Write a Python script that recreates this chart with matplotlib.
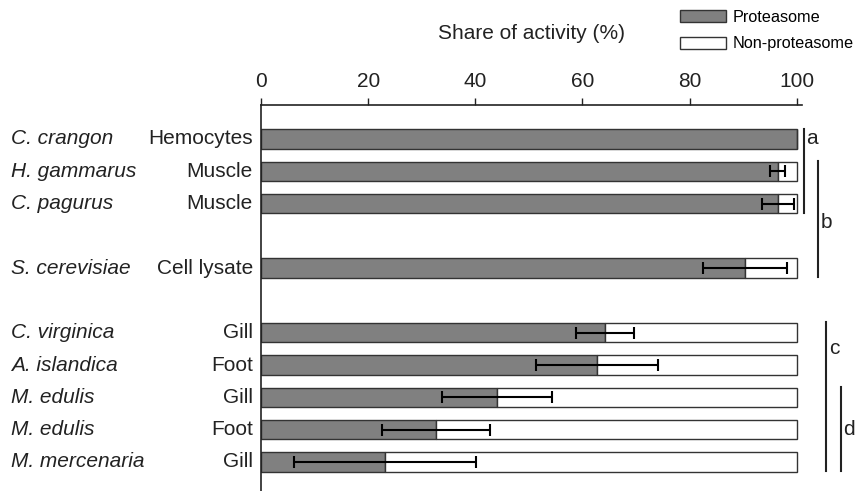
import numpy as np
import matplotlib
matplotlib.use('Agg')
import matplotlib.pyplot as plt
from matplotlib.patches import Patch

plt.rcParams['font.family'] = ['Liberation Sans', 'DejaVu Sans']

# data
species = ['C. crangon', 'H. gammarus', 'C. pagurus', 'S. cerevisiae',
           'C. virginica', 'A. islandica', 'M. edulis', 'M. edulis', 'M. mercenaria']
tissues = ['Hemocytes', 'Muscle', 'Muscle', 'Cell lysate',
           'Gill', 'Foot', 'Gill', 'Foot', 'Gill']
proteasome = np.array([100, 96.5, 96.5, 90.3, 64.2, 62.7, 44.1, 32.6, 23.1])
errors = np.array([0, 1.4, 3.0, 7.8, 5.4, 11.4, 10.3, 10.1, 17.0])
non_proteasome = 100 - proteasome
rows = np.array([0, 1, 2, 4, 6, 7, 8, 9, 10])

# significance groups: letter, first row, last row, x of line, y of letter
groups = [('a', 0, 2, 101.3, 0.0),
          ('b', 1, 4, 104.0, 2.6),
          ('c', 6, 10, 105.5, 6.5),
          ('d', 8, 10, 108.2, 9.0)]

fs = 15
fig = plt.figure(figsize=(8.56, 4.91), dpi=100)
ax = fig.add_axes([0.305, 0.0, 0.632, 0.786])

edge = '#333333'
ax.barh(rows, proteasome, height=0.6, color='#808080', edgecolor=edge, linewidth=1)
ax.barh(rows, non_proteasome, left=proteasome, height=0.6, color='white',
        edgecolor=edge, linewidth=1)
m = errors > 0
ax.errorbar(proteasome[m], rows[m], xerr=errors[m], fmt='none', ecolor='black',
            elinewidth=1.5, capsize=4.3, capthick=1.5)

ax.set_xlim(0, 101)
ax.set_ylim(10.9, -1.05)
ax.xaxis.tick_top()
ax.xaxis.set_label_position('top')
ax.set_xticks([0, 20, 40, 60, 80, 100])
ax.tick_params(axis='x', labelsize=fs, length=5, width=1, pad=5, colors='#222222')
ax.set_yticks([])
ax.set_xlabel('Share of activity (%)', fontsize=fs, labelpad=24, color='#222222')
for s in ['right', 'bottom']:
    ax.spines[s].set_visible(False)
for s in ['top', 'left']:
    ax.spines[s].set_color('#222222')
    ax.spines[s].set_linewidth(1.2)

# row labels: species in italics, tissue next to the axis
trans = ax.get_yaxis_transform()
for r, sp, ti in zip(rows, species, tissues):
    ax.text(-0.015, r, ti, transform=trans, ha='right', va='center',
            fontsize=fs, color='#222222')
    ax.text(-0.463, r, sp, transform=trans, ha='left', va='center',
            fontsize=fs, style='italic', color='#222222')

# letter brackets on the right
for letter, r0, r1, x, ty in groups:
    ax.plot([x, x], [r0 - 0.32, r1 + 0.28], color='#222222', lw=1.5, clip_on=False)
    ax.text(x + 0.5, ty, letter, ha='left', va='center', fontsize=fs,
            color='#222222', clip_on=False)

handles = [Patch(facecolor='#808080', edgecolor=edge, label='Proteasome'),
           Patch(facecolor='white', edgecolor=edge, label='Non-proteasome')]
fig.legend(handles=handles, loc='upper right', bbox_to_anchor=(1.015, 1.01),
           frameon=False, fontsize=11.7, handlelength=2.8, handleheight=0.75,
           handletextpad=0.45, labelspacing=0.72)

fig.savefig('out.png', dpi=100)
